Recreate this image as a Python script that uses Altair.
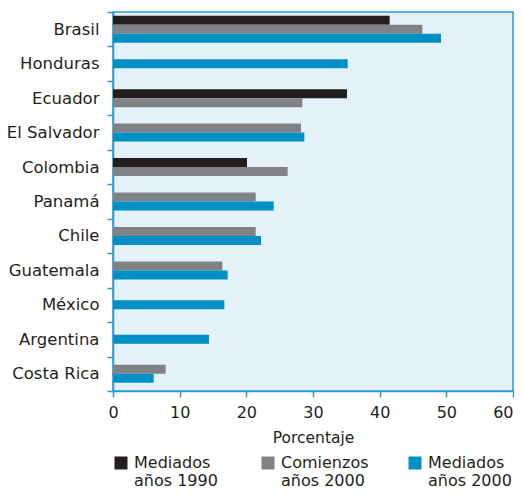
import altair as alt
import pandas as pd

countries = ["Brasil", "Honduras", "Ecuador", "El Salvador", "Colombia", "Panamá",
             "Chile", "Guatemala", "México", "Argentina", "Costa Rica"]
mediados_1990 = [41.5, None, 35.1, None, 20.1, None, None, None, None, None, None]
comienzos_2000 = [46.4, None, 28.4, 28.2, 26.2, 21.4, 21.4, 16.4, None, None, 7.9]
mediados_2000 = [49.2, 35.2, None, 28.7, None, 24.1, 22.2, 17.2, 16.7, 14.4, 6.1]
series_names = ["Mediados|años 1990", "Comienzos|años 2000", "Mediados|años 2000"]
series_colors = ["#231f20", "#808285", "#0090c5"]
x_ticks = [0, 10, 20, 30, 40, 50, 60]

PLOT_W = 400
PLOT_H = 379
BAR_PX = 9
step = PLOT_H / len(countries)
frac = BAR_PX / step

rows = []
for i, c in enumerate(countries):
    vals = [mediados_1990[i], comienzos_2000[i], mediados_2000[i]]
    present = [(k, v) for k, v in enumerate(vals) if v is not None]
    n = len(present)
    for slot, (k, v) in enumerate(present):
        rows.append({
            "pais": c,
            "serie": series_names[k],
            "valor": v,
            "pos": 0.5 + (slot - (n - 1) / 2) * frac,
        })
df = pd.DataFrame(rows)

FONT = "DejaVu Sans"
AXIS_BLUE = "#2a9ad0"
TEXT = "#231f20"

chart = alt.Chart(df).mark_bar(height=BAR_PX).encode(
    x=alt.X("valor:Q", title="Porcentaje",
            scale=alt.Scale(domain=[0, 60], nice=False),
            axis=alt.Axis(values=x_ticks, grid=False,
                          tickSize=6, labelPadding=7, titlePadding=10,
                          labelFontSize=16, titleFontSize=15.5,
                          labelAlign={"expr": "datum.value === 60 ? 'right' : 'center'"},
                          titleFontWeight="normal")),
    y=alt.Y("pais:N", title=None, sort=countries,
            scale=alt.Scale(paddingInner=0, paddingOuter=0),
            axis=alt.Axis(tickBand="extent", tickSize=6, labelPadding=8,
                          labelFontSize=16.5, grid=False)),
    yOffset=alt.YOffset("pos:Q", scale=alt.Scale(domain=[0, 1], nice=False)),
    color=alt.Color("serie:N", sort=series_names,
                    scale=alt.Scale(domain=series_names, range=series_colors),
                    legend=alt.Legend(title=None, orient="none", direction="horizontal",
                                      legendX=0, legendY=443, columns=3, gridAlign="all",
                                      symbolType="square", symbolSize=169,
                                      symbolStrokeWidth=0, symbolOpacity=1,
                                      labelFontSize=16, labelExpr="split(datum.label, '|')",
                                      labelBaseline="middle", labelOffset=5,
                                      columnPadding=38,
                                      labelColor=TEXT)),
).properties(
    width=PLOT_W, height=PLOT_H,
    autosize=alt.AutoSizeParams(type="none"),
    padding={"left": 105, "top": 4, "right": 1, "bottom": 100}
).configure_view(
    fill="#e4f1f8", stroke=AXIS_BLUE, strokeWidth=1.5
).configure_axis(
    domainColor=AXIS_BLUE, tickColor=AXIS_BLUE, domainWidth=1.5, tickWidth=1.5,
    labelColor=TEXT, titleColor=TEXT, labelFont=FONT, titleFont=FONT
).configure_legend(
    labelFont=FONT
)

chart.save("out.html", embed_options={"renderer": "svg", "actions": False})
